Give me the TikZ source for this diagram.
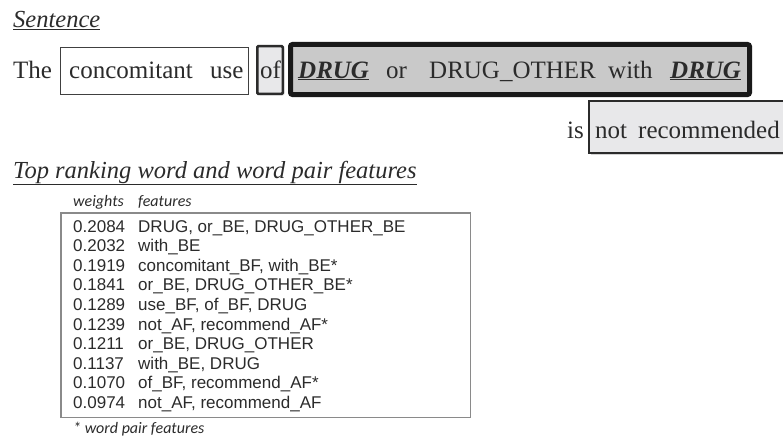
\documentclass[tikz,border=0pt]{standalone}
\usepackage{fontspec}
\setmainfont{Liberation Serif}
\newfontfamily\tabfont{Liberation Sans}
\newfontfamily\notefont{Carlito}
\usepackage{tikz}
\usepackage{xcolor}
\usetikzlibrary{positioning,shadows}

\definecolor{ink}{HTML}{2B2B2B}
\definecolor{ofgray}{HTML}{E8E8EA}
\definecolor{druggray}{HTML}{C9C9C9}
\definecolor{tabline}{HTML}{8A8A8A}

\tikzset{
  word/.style={anchor=base west,inner sep=0pt,text=ink,font=\fontsize{25}{30}\selectfont},
  head/.style={anchor=base west,inner sep=0pt,text=ink,font=\fontsize{24.5}{29}\selectfont\itshape},
  cell/.style={anchor=base west,inner sep=0pt,text=ink,font=\tabfont\fontsize{17}{21}\selectfont},
  note/.style={anchor=base west,inner sep=0pt,text=ink,font=\notefont\fontsize{16}{19}\selectfont\itshape},
  softshadow/.style={drop shadow={shadow xshift=1.5pt,shadow yshift=-1.5pt,opacity=0.35}},
  plainbox/.style={draw=ink!90,line width=1.2pt,fill=white,inner sep=0pt},
  ofbox/.style={draw=ink,line width=2.5pt,fill=ofgray,inner sep=0pt,rounded corners=1pt,softshadow},
  drugbox/.style={draw=black!90,line width=5pt,fill=druggray,inner sep=0pt,rounded corners=2pt,softshadow},
  notbox/.style={draw=ink,line width=2pt,fill=ofgray,inner sep=0pt,softshadow},
  tabbox/.style={draw=tabline,line width=1.5pt,inner sep=0pt}
}
\newcommand{\drugword}{\underline{\textbf{\textit{DRUG}}}}

\begin{document}
\begin{tikzpicture}[x=1pt,y=-1pt]
\useasboundingbox (0,0) rectangle (783,436);
% boxes round the sentence
\node (cubox) at (154.5,71) [plainbox,minimum width=188,minimum height=47] {};
\node (ofbx) at (270,70) [ofbox,minimum width=25.5,minimum height=47.5] {};
\node (drugbx) at (520,69.5) [drugbox,minimum width=459,minimum height=50] {};
\node (notbx) at (687.5,127) [notbox,minimum width=197,minimum height=52] {};
% sentence
\node (sent) at (13,28) [head] {\underline{Sentence}};
\node (the) at (13,78) [word] {The};
\node (conc) at (69,78) [word] {concomitant};
\node (use) at (210,78) [word] {use};
\node (of) at (260,78) [word] {of};
\node (drug1) at (298,78) [word] {\drugword};
\node (or) at (386,78) [word] {or};
\node (other) at (429,78) [word] {DRUG\_OTHER};
\node (with) at (608,78) [word] {with};
\node (drug2) at (670,78) [word] {\drugword};
\node (is) at (567,138) [word] {is};
\node (not) at (595,138) [word] {not};
\node (rec) at (638,138) [word] {recommended};
% features
\node (top) at (13,178) [head] {\underline{Top ranking word and word pair features}};
\node (wts) at (73,206) [note] {weights};
\node (fts) at (138,206) [note] {features};
\node (tab) at (265.5,315) [tabbox,minimum width=409.5,minimum height=204.5] {};
\node (w1) at (73,232) [cell] {0.2084};
\node (f1) at (138,232) [cell] {DRUG, or\_BE, DRUG\_OTHER\_BE};
\node (w2) at (73,251.6) [cell] {0.2032};
\node (f2) at (138,251.6) [cell] {with\_BE};
\node (w3) at (73,271.2) [cell] {0.1919};
\node (f3) at (138,271.2) [cell] {concomitant\_BF, with\_BE*};
\node (w4) at (73,290.8) [cell] {0.1841};
\node (f4) at (138,290.8) [cell] {or\_BE, DRUG\_OTHER\_BE*};
\node (w5) at (73,310.4) [cell] {0.1289};
\node (f5) at (138,310.4) [cell] {use\_BF, of\_BF, DRUG};
\node (w6) at (73,330) [cell] {0.1239};
\node (f6) at (138,330) [cell] {not\_AF, recommend\_AF*};
\node (w7) at (73,349.6) [cell] {0.1211};
\node (f7) at (138,349.6) [cell] {or\_BE, DRUG\_OTHER};
\node (w8) at (73,369.2) [cell] {0.1137};
\node (f8) at (138,369.2) [cell] {with\_BE, DRUG};
\node (w9) at (73,388.8) [cell] {0.1070};
\node (f9) at (138,388.8) [cell] {of\_BF, recommend\_AF*};
\node (w10) at (73,408.4) [cell] {0.0974};
\node (f10) at (138,408.4) [cell] {not\_AF, recommend\_AF};
\node (pair) at (73,433) [note] {* word pair features};
\end{tikzpicture}
\end{document}
